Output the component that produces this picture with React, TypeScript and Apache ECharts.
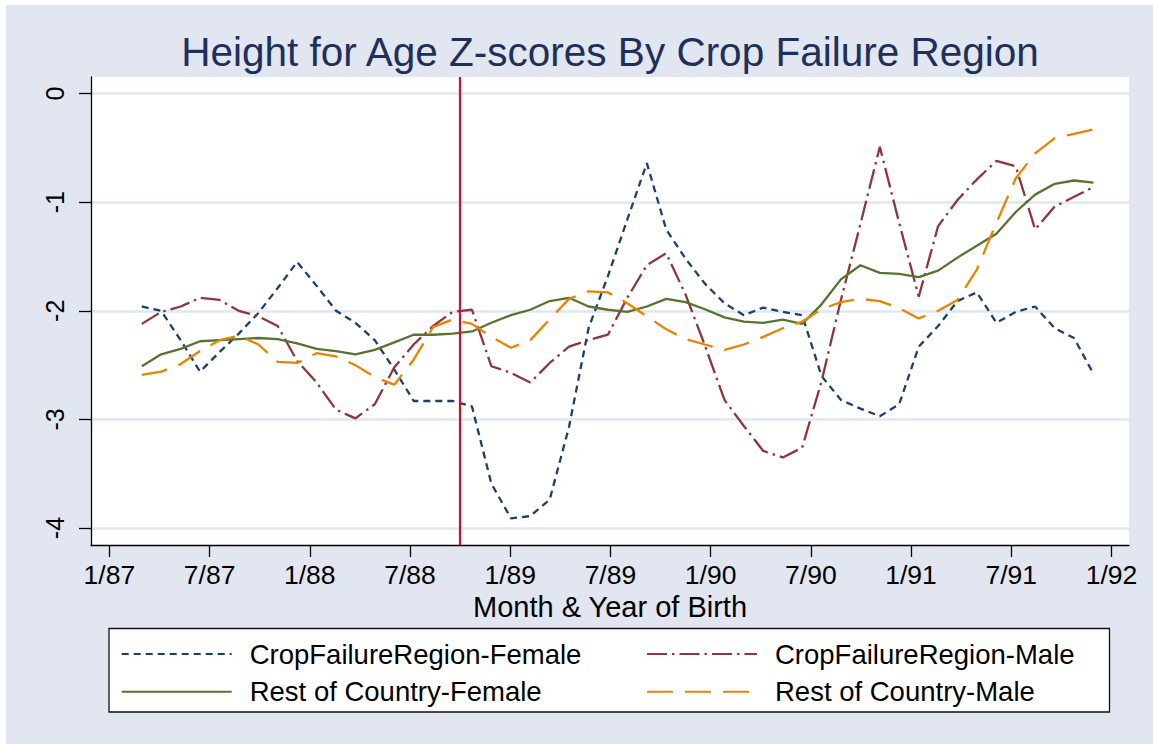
import React, { useEffect, useRef } from "react";
import * as echarts from "echarts";

const FONT = "'Liberation Sans', Arial, Helvetica, sans-serif";

const TITLE = "Height for Age Z-scores By Crop Failure Region";
const X_NAME = "Month & Year of Birth";

const seriesNames = [
  "CropFailureRegion-Female",
  "CropFailureRegion-Male",
  "Rest of Country-Female",
  "Rest of Country-Male",
];

// months since January 1987
const xTickValues = [0, 6, 12, 18, 24, 30, 36, 42, 48, 54, 60];
const xTickLabels = ["1/87", "7/87", "1/88", "7/88", "1/89", "7/89", "1/90", "7/90", "1/91", "7/91", "1/92"];
const yTickValues = [0, -1, -2, -3, -4];
const yTickLabels = ["0", "-1", "-2", "-3", "-4"];

const cutoffMonth = 20.95;

// observation positions (months since 1/87)
const monthX = [
  1.94, 3.1, 4.27, 5.43, 6.59, 7.75, 8.92, 10.08, 11.24, 12.41,
  13.57, 14.73, 15.89, 17.06, 18.22, 19.38, 20.55, 21.71, 22.87, 24.04,
  25.2, 26.36, 27.52, 28.69, 29.85, 31.01, 32.18, 33.34, 34.5, 35.66,
  36.83, 37.99, 39.15, 40.32, 41.48, 42.64, 43.8, 44.97, 46.13, 47.29,
  48.46, 49.62, 50.78, 51.94, 53.11, 54.27, 55.43, 56.6, 57.76, 58.92,
];

const cropFemale = [
  -1.96, -2.0, -2.27, -2.56, -2.38, -2.21, -2.02, -1.79, -1.55, -1.77,
  -2.0, -2.11, -2.27, -2.54, -2.83, -2.83, -2.83, -2.88, -3.59, -3.91,
  -3.89, -3.74, -3.07, -2.16, -1.68, -1.16, -0.64, -1.25, -1.52, -1.75,
  -1.93, -2.04, -1.97, -2.01, -2.04, -2.6, -2.82, -2.9, -2.97, -2.86,
  -2.33, -2.14, -1.91, -1.83, -2.11, -2.01, -1.96, -2.16, -2.25, -2.58,
];

const cropMale = [
  -2.12, -2.01, -1.96, -1.88, -1.9, -2.0, -2.05, -2.14, -2.46, -2.66,
  -2.91, -2.99, -2.86, -2.52, -2.31, -2.14, -2.01, -1.99, -2.51, -2.57,
  -2.66, -2.48, -2.33, -2.27, -2.22, -1.88, -1.58, -1.47, -1.85, -2.32,
  -2.82, -3.06, -3.29, -3.35, -3.26, -2.65, -1.9, -1.2, -0.49, -1.19,
  -1.87, -1.22, -0.98, -0.79, -0.62, -0.67, -1.25, -1.04, -0.95, -0.86,
];

const restFemale = [
  -2.51, -2.4, -2.35, -2.28, -2.27, -2.26, -2.25, -2.26, -2.3, -2.35,
  -2.37, -2.4, -2.36, -2.29, -2.22, -2.22, -2.21, -2.19, -2.11, -2.04,
  -1.99, -1.91, -1.88, -1.96, -1.99, -2.01, -1.96, -1.89, -1.92, -1.985,
  -2.06, -2.1, -2.11, -2.08, -2.12, -1.94, -1.71, -1.58, -1.65, -1.66,
  -1.69, -1.63, -1.51, -1.4, -1.29, -1.09, -0.93, -0.83, -0.8, -0.82,
];

const restMale = [
  -2.59, -2.56, -2.49, -2.37, -2.27, -2.23, -2.31, -2.47, -2.48, -2.39,
  -2.42, -2.5, -2.61, -2.68, -2.45, -2.15, -2.08, -2.12, -2.24, -2.34,
  -2.27, -2.08, -1.89, -1.82, -1.83, -1.93, -2.05, -2.17, -2.26, -2.31,
  -2.36, -2.31, -2.24, -2.16, -2.1, -1.985, -1.92, -1.89, -1.91, -1.975,
  -2.07, -2.0, -1.9, -1.62, -1.19, -0.78, -0.55, -0.41, -0.37, -0.33,
];

const seriesValues = [cropFemale, cropMale, restFemale, restMale];
const seriesColors = ["#1A3F70", "#90353B", "#55752F", "#E88400"];
const seriesDash: number[][] = [
  [7, 5],
  [20, 5, 2.5, 5],
  [],
  [26, 12],
];

export default function App() {
  const ref = useRef<HTMLDivElement>(null);

  useEffect(() => {
    if (!ref.current) return;
    const chart = echarts.init(ref.current, undefined, { renderer: "svg" });

    const series: any[] = seriesNames.map((name, i) => ({
      name,
      type: "line",
      data: monthX.map((x, j) => [x, seriesValues[i][j]]),
      symbol: "none",
      showSymbol: false,
      color: seriesColors[i],
      lineStyle: {
        color: seriesColors[i],
        width: 2.3,
        type: seriesDash[i].length ? seriesDash[i] : "solid",
      },
      z: 3,
    }));

    series[0].markLine = {
      silent: true,
      symbol: ["none", "none"],
      label: { show: false },
      lineStyle: { color: "#C80F35", width: 2.2, type: "solid" },
      data: [{ xAxis: cutoffMonth }],
    };

    const legendCommon = {
      orient: "vertical",
      top: 640,
      itemWidth: 110,
      itemHeight: 14,
      itemGap: 9.7,
      padding: 0,
      itemStyle: { opacity: 0, borderWidth: 0 },
      lineStyle: { opacity: 1 },
      textStyle: {
        fontFamily: FONT,
        fontSize: 27.5,
        lineHeight: 26,
        color: "#000",
        padding: [0, 0, 0, 13],
      },
    };

    const option: any = {
      animation: false,
      backgroundColor: "transparent",
      textStyle: { fontFamily: FONT },
      title: {
        text: TITLE,
        left: 610,
        top: 32,
        textAlign: "center",
        padding: 0,
        textStyle: {
          fontFamily: FONT,
          fontSize: 40.5,
          lineHeight: 40,
          fontWeight: "normal",
          color: "#1E2F5C",
        },
      },
      graphic: [
        {
          type: "rect",
          z: -10,
          silent: true,
          shape: { x: 6, y: 5, width: 1147, height: 739 },
          style: { fill: "#E1E6F0" },
        },
        {
          type: "rect",
          z: -9,
          silent: true,
          shape: { x: 91, y: 77, width: 1038, height: 468 },
          style: { fill: "#FFFFFF" },
        },
        {
          type: "rect",
          z: 0,
          silent: true,
          shape: { x: 109, y: 628.5, width: 1000.5, height: 83.5 },
          style: { fill: "#FFFFFF", stroke: "#111", lineWidth: 1.3 },
        },
      ],
      grid: { left: 91, top: 77, width: 1038, height: 468, show: false },
      xAxis: {
        type: "value",
        min: -1.1,
        max: 61.05,
        name: X_NAME,
        nameLocation: "middle",
        nameGap: 42,
        nameTextStyle: { fontFamily: FONT, fontSize: 29, color: "#000" },
        axisLine: { show: true, onZero: false, lineStyle: { color: "#000", width: 1.3 } },
        axisTick: {
          show: true,
          length: 12,
          customValues: xTickValues,
          lineStyle: { color: "#000", width: 1.3 },
        },
        axisLabel: {
          customValues: xTickValues,
          formatter: (v: number) => {
            const i = xTickValues.indexOf(Math.round(v));
            return i >= 0 ? xTickLabels[i] : "";
          },
          fontFamily: FONT,
          fontSize: 26.5,
          color: "#000",
          margin: 16,
        },
        splitLine: { show: false },
      },
      yAxis: {
        type: "value",
        min: -4.156,
        max: 0.153,
        axisLine: { show: true, onZero: false, lineStyle: { color: "#000", width: 1.3 } },
        axisTick: {
          show: true,
          length: 12,
          customValues: yTickValues,
          lineStyle: { color: "#000", width: 1.3 },
        },
        axisLabel: {
          customValues: yTickValues,
          rotate: 90,
          formatter: (v: number) => {
            const i = yTickValues.indexOf(Math.round(v));
            return i >= 0 ? yTickLabels[i] : "";
          },
          fontFamily: FONT,
          fontSize: 25,
          lineHeight: 22,
          color: "#000",
          margin: 25,
        },
        splitLine: { show: true, lineStyle: { color: "#E1E6F0", width: 2.5 } },
      },
      legend: [
        { ...legendCommon, left: 120.7, data: [seriesNames[0], seriesNames[2]] },
        { ...legendCommon, left: 646, data: [seriesNames[1], seriesNames[3]] },
      ],
      series,
    };

    chart.setOption(option);
    return () => chart.dispose();
  }, []);

  return (
    <div
      ref={ref}
      style={{
        position: "absolute",
        left: 0,
        top: 0,
        width: 1153,
        height: 744,
        background: "#fff",
      }}
    />
  );
}
